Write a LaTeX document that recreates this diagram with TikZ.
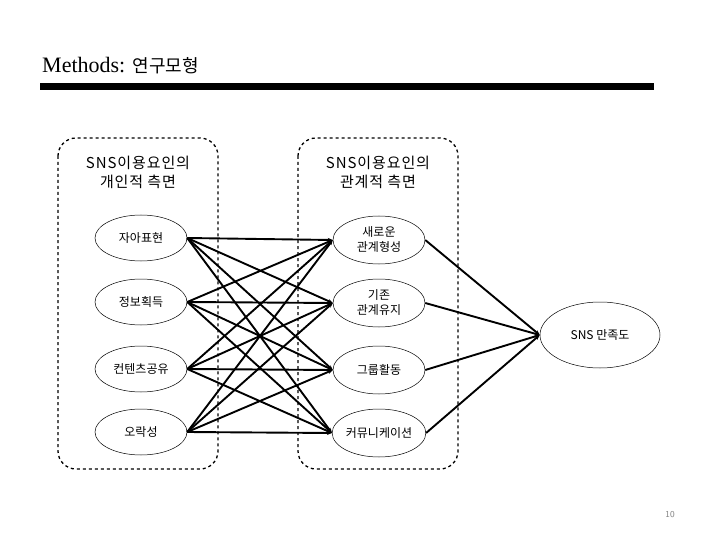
\documentclass[tikz,border=0pt]{standalone}
\usepackage{fontspec}
\setmainfont{Liberation Serif}
\newfontfamily\kr{Noto Sans CJK KR}
\newfontfamily\krw[LetterSpace=6]{Noto Sans CJK KR}
\usetikzlibrary{arrows.meta,shapes.geometric}
\begin{document}
\begin{tikzpicture}[x=1pt,y=-1pt,
  ell/.style={draw,ellipse,line width=0.5pt,minimum width=92pt,minimum height=48pt,inner sep=0pt,font=\kr\fontsize{12}{15}\selectfont,align=center},
  lft/.style={ell,minimum height=46pt},
  grp/.style={draw,dashed,line width=1.3pt,rounded corners=18pt},
  hdr/.style={font=\krw\fontsize{15}{19}\selectfont,align=center},
  lnk/.style={line width=1.9pt,-{Stealth[length=5pt,width=4pt]}},
]
\useasboundingbox (0,0) rectangle (720,540);
% title
\node[anchor=base west,inner sep=0pt] (title) at (42,73) {\fontsize{22}{26}\selectfont Methods: {\kr\fontsize{18}{22}\selectfont 연구모형}};
\fill (40,83) rectangle (654,90);
% groups
\draw[grp] (58,138) rectangle (218,469);
\draw[grp] (298,138) rectangle (458,469);
\node[hdr] (h1) at (138,172) {SNS이용요인의\\개인적 측면};
\node[hdr] (h2) at (378,172) {SNS이용요인의\\관계적 측면};
% left nodes
\node[lft] (a1) at (141,238) {자아표현};
\node[lft] (a2) at (141,302) {정보획득};
\node[lft] (a3) at (141,369) {컨텐츠공유};
\node[lft] (a4) at (141,432) {오락성};
% right nodes
\node[ell] (b1) at (379,240) {새로운\\관계형성};
\node[ell] (b2) at (379,303) {기존\\관계유지};
\node[ell] (b3) at (379,370) {그룹활동};
\node[ell] (b4) at (379,433) {커뮤니케이션};
% satisfaction
\node[ell,minimum width=120pt,minimum height=66pt] (s) at (600,335) {SNS 만족도};
% links
\foreach \i in {1,...,4}{
  \foreach \j in {1,...,4}{
    \draw[lnk] (a\i.east) -- (b\j.west);
  }
  \draw[lnk] (b\i.east) -- (s.west);
}
\node[font=\sffamily\fontsize{9}{10}\selectfont,text=gray] (pg) at (670,515) {10};
\end{tikzpicture}
\end{document}
